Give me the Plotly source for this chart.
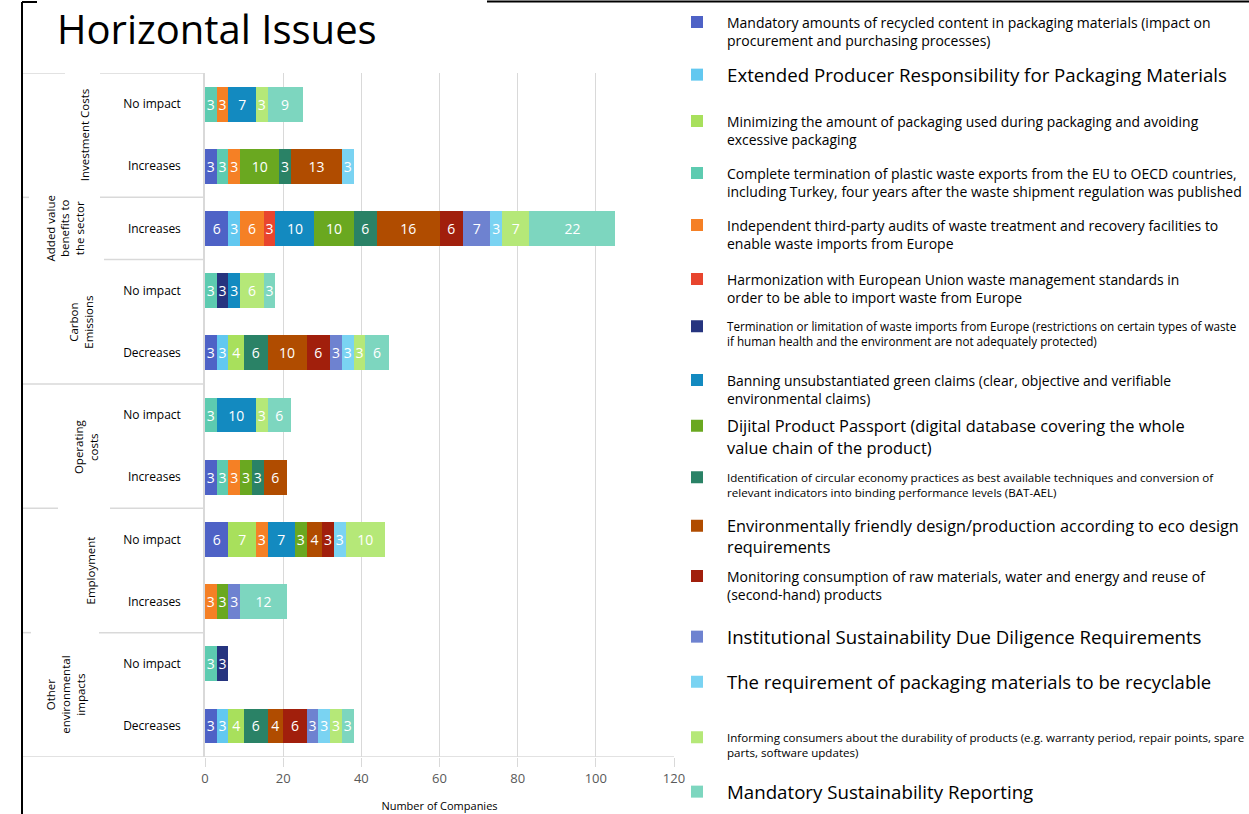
import plotly.graph_objects as go

W, H = 1249, 814

# ---------------- data ----------------
groups = ["Investment Costs", "Investment Costs", "Added value benefits to the sector",
          "Carbon Emissions", "Carbon Emissions", "Operating costs", "Operating costs",
          "Employment", "Employment", "Other environmental impacts", "Other environmental impacts"]
row_labels = ["No impact", "Increases", "Increases", "No impact", "Decreases", "No impact",
              "Increases", "No impact", "Increases", "No impact", "Decreases"]

group_titles = ["Investment Costs", "Added value<br>benefits to<br>the sector", "Carbon<br>Emissions",
                "Operating<br>costs", "Employment", "Other<br>environmental<br>impacts"]

s01 = [0, 3, 6, 0, 3, 0, 3, 6, 0, 0, 3]
s02 = [0, 0, 3, 0, 3, 0, 0, 0, 0, 0, 3]
s03 = [0, 0, 0, 0, 4, 0, 0, 7, 0, 0, 4]
s04 = [3, 3, 0, 3, 0, 3, 3, 0, 0, 3, 0]
s05 = [3, 3, 6, 0, 0, 0, 3, 3, 3, 0, 0]
s06 = [0, 0, 3, 0, 0, 0, 0, 0, 0, 0, 0]
s07 = [0, 0, 0, 3, 0, 0, 0, 0, 0, 3, 0]
s08 = [7, 0, 10, 3, 0, 10, 0, 7, 0, 0, 0]
s09 = [0, 10, 10, 0, 0, 0, 3, 3, 3, 0, 0]
s10 = [0, 3, 6, 0, 6, 0, 3, 0, 0, 0, 6]
s11 = [0, 13, 16, 0, 10, 0, 6, 4, 0, 0, 4]
s12 = [0, 0, 6, 0, 6, 0, 0, 3, 0, 0, 6]
s13 = [0, 0, 7, 0, 3, 0, 0, 0, 3, 0, 3]
s14 = [0, 3, 3, 0, 3, 0, 0, 3, 0, 0, 3]
s15 = [3, 0, 7, 6, 3, 3, 0, 10, 0, 0, 3]
s16 = [9, 0, 22, 3, 6, 6, 0, 0, 12, 0, 3]

series_values = [s01, s02, s03, s04, s05, s06, s07, s08, s09, s10, s11, s12, s13, s14, s15, s16]

series_names = [
    "Mandatory amounts of recycled content in packaging materials (impact on<br>procurement and purchasing processes)",
    "Extended Producer Responsibility for Packaging Materials",
    "Minimizing the amount of packaging used during packaging and avoiding<br>excessive packaging",
    "Complete termination of plastic waste exports from the EU to OECD countries,<br>including Turkey, four years after the waste shipment regulation was published",
    "Independent third-party audits of waste treatment and recovery facilities to<br>enable waste imports from Europe",
    "Harmonization with European Union waste management standards in<br>order to be able to import waste from Europe",
    "Termination or limitation of waste imports from Europe (restrictions on certain types of waste<br>if human health and the environment are not adequately protected)",
    "Banning unsubstantiated green claims (clear, objective and verifiable<br>environmental claims)",
    "Dijital Product Passport (digital database covering the whole<br>value chain of the product)",
    "Identification of circular economy practices as best available techniques and conversion of<br>relevant indicators into binding performance levels (BAT-AEL)",
    "Environmentally friendly design/production according to eco design<br>requirements",
    "Monitoring consumption of raw materials, water and energy and reuse of<br>(second-hand) products",
    "Institutional Sustainability Due Diligence Requirements",
    "The requirement of packaging materials to be recyclable",
    "Informing consumers about the durability of products (e.g. warranty period, repair points, spare<br>parts, software updates)",
    "Mandatory Sustainability Reporting",
]

colors = ["#4E62C6", "#62C8F0", "#A8E05C", "#5DCBB0", "#F58025", "#E8452E", "#26347F", "#138AC0",
          "#6AA820", "#2A8266", "#B04C00", "#A11F0C", "#6E82D0", "#7AD3F2", "#B5E878", "#7DD6BF"]

x_ticks = [0, 20, 40, 60, 80, 100, 120]

# ---------------- layout helpers (styles, not data) ----------------
legend_font_sizes = [14.0, 18.7, 13.9, 14, 14, 13.9, 11.7, 13.9, 16.4, 11.6, 16.3, 14, 18.6, 18.5, 11.6, 18.7]
legend_line1_y = [22, 75, 121, 173, 225, 279, 326, 380, 426, 477, 526, 576, 637, 682, 737, 792]

PX0, PX1 = 205, 674
PY0, PY1 = 73, 757


def px(x):
    return x / W


def py(y):
    return 1 - y / H


fig = go.Figure()
ypos = list(range(len(row_labels)))
for i, (vals, name, col) in enumerate(zip(series_values, series_names, colors)):
    xs = [v if v else None for v in vals]
    fig.add_trace(go.Bar(
        x=xs, y=ypos, orientation="h", name=name,
        marker=dict(color=col, line=dict(width=0)),
        text=[str(v) if v else "" for v in vals],
        textposition="inside", insidetextanchor="middle", textangle=0,
        textfont=dict(color="white", size=14, family="Open Sans"),
        width=0.56,
        legend="legend" if i == 0 else f"legend{i+1}",
        showlegend=True,
        hoverinfo="x+name",
    ))

layout_legends = {}
for i in range(len(series_names)):
    key = "legend" if i == 0 else f"legend{i+1}"
    fs = legend_font_sizes[i]
    layout_legends[key] = dict(
        x=px(667), xanchor="left", xref="container",
        y=py(legend_line1_y[i] - fs * 0.75 - 5), yanchor="top", yref="container",
        valign="top", itemwidth=50,
        font=dict(family="Open Sans", size=fs, color="black"),
        bgcolor="rgba(0,0,0,0)", borderwidth=0,
    )

# group label annotations
annotations = []
group_x_px = [84, 65, 81, 86, 90, 66]
order = []
for g in groups:
    if g not in order:
        order.append(g)
for gi, g in enumerate(order):
    idx = [k for k, gg in enumerate(groups) if gg == g]
    yc = (idx[0] + idx[-1]) / 2
    annotations.append(dict(
        x=px(group_x_px[gi]), xref="paper", y=yc, yref="y",
        text=group_titles[gi], textangle=-90, showarrow=False,
        font=dict(family="Open Sans", size=11.5, color="black"),
        xanchor="center", yanchor="middle", align="center",
    ))

# divider lines on the category axis (x in paper, y at category boundaries)
LINE = dict(color="#D9D9D9", width=1.5)
shapes = []


def hline(x0, x1, yb):
    shapes.append(dict(type="line", xref="paper", yref="y", x0=px(x0), x1=px(x1), y0=yb, y1=yb, line=LINE))


hline(22, 65, -0.5); hline(100, PX0, -0.5)
hline(22, 29, 1.5); hline(100, PX0, 1.5)
hline(104, PX0, 2.5)
hline(22, PX0, 4.5)
hline(22, 58, 6.5); hline(110, PX0, 6.5)
hline(22, 31, 8.5); hline(99, PX0, 8.5)
hline(22, PX1, 10.5)

# outer black frame
BL = dict(color="black", width=2)
shapes.append(dict(type="line", xref="paper", yref="paper", x0=px(22), x1=px(22), y0=py(2), y1=py(814), line=BL))
shapes.append(dict(type="line", xref="paper", yref="paper", x0=px(22), x1=px(37), y0=py(2), y1=py(2), line=BL))
shapes.append(dict(type="line", xref="paper", yref="paper", x0=px(487), x1=px(1249), y0=py(1.5), y1=py(1.5), line=BL))

fig.update_layout(
    width=W, height=H, barmode="stack",
    margin=dict(l=0, r=0, t=0, b=0, autoexpand=False),
    paper_bgcolor="white", plot_bgcolor="white",
    title=dict(text="Horizontal Issues", x=px(57), xanchor="left", xref="container",
               y=py(30), yanchor="middle", yref="container",
               font=dict(family="Open Sans", size=40, color="black")),
    uniformtext=dict(minsize=14, mode="show"),
    annotations=annotations, shapes=shapes,
    **layout_legends,
)
fig.update_xaxes(
    domain=[px(PX0), px(PX1)], range=[0, 120], tickvals=x_ticks,
    showgrid=True, gridcolor="#D9D9D9", gridwidth=1.2, zeroline=False,
    showline=False, ticks="outside", ticklen=9, tickcolor="#D9D9D9", tickwidth=1.2,
    tickfont=dict(family="Open Sans", size=13, color="#595959"),
    title=dict(text="Number of Companies", font=dict(family="Open Sans", size=11, color="black"), standoff=16),
    automargin=False, fixedrange=True,
)
fig.update_yaxes(
    domain=[py(PY1), py(PY0)], range=[10.5, -0.5], tickvals=ypos, ticktext=row_labels,
    showgrid=False, zeroline=False, showline=True, linecolor="#D9D9D9", linewidth=1.5,
    ticks="", ticklabelstandoff=20,
    tickfont=dict(family="Open Sans", size=12, color="black"),
    automargin=False, fixedrange=True,
)

fig.write_html("out.html", config={"displayModeBar": False},
               post_script="document.body.style.margin='0';")
